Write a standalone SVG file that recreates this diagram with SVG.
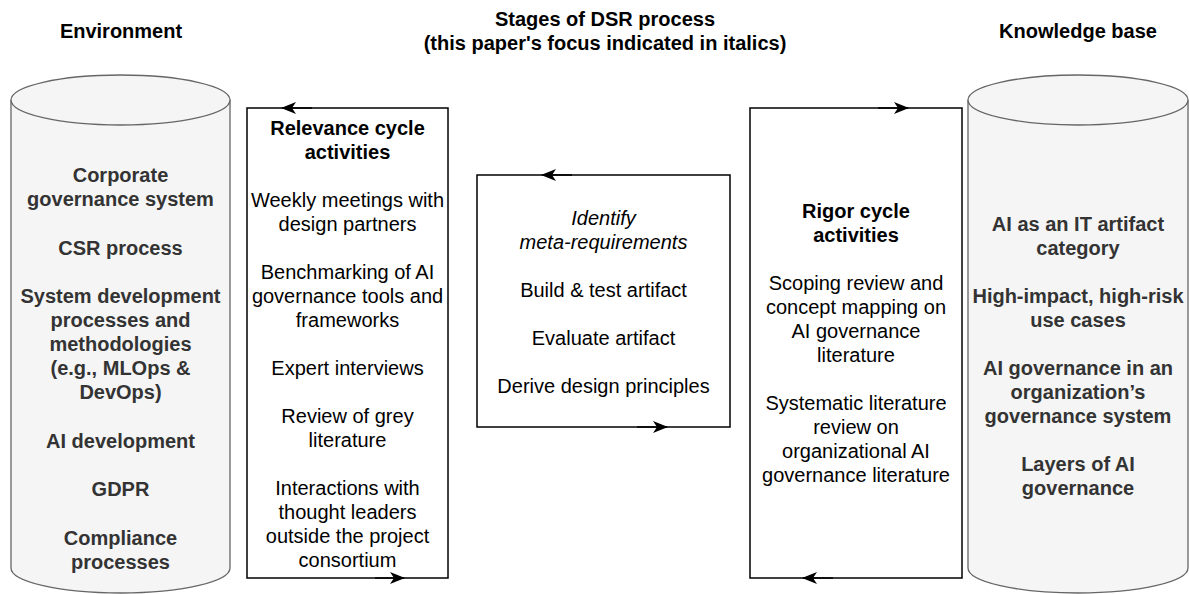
<svg xmlns="http://www.w3.org/2000/svg" width="1189" height="594" viewBox="0 0 1189 594">
<style>
  text { font-family: "Liberation Sans", Arial, Helvetica, sans-serif; font-size: 20px; text-anchor: middle; }
  .title { font-weight: bold; fill: #000; }
  .cyl { fill: #f5f5f5; stroke: #666666; stroke-width: 1.3; }
  .cyltxt { font-weight: bold; fill: #333333; }
  .box { fill: #ffffff; stroke: #000000; stroke-width: 1.5; }
  .bt { fill: #000000; }
  .b { font-weight: bold; }
  .i { font-style: italic; }
  .edge { fill: none; stroke: #000000; stroke-width: 1.5; }
</style>
<defs>
  <marker id="arr" viewBox="0 0 15 12" refX="14" refY="6" markerWidth="15" markerHeight="12" orient="auto" markerUnits="userSpaceOnUse">
    <path d="M0,0 L15,6 L0,12 L4,6 Z" fill="#000000"/>
  </marker>
</defs>
<rect x="0" y="0" width="1189" height="594" fill="#ffffff"/>

<g id="titles">
  <text class="title" x="121" y="38">Environment</text>
  <text class="title" x="605" y="26">Stages of DSR process</text>
  <text class="title" x="605" y="50">(this paper's focus indicated in italics)</text>
  <text class="title" x="1078" y="38">Knowledge base</text>
</g>

<g id="environment">
  <path class="cyl" d="M11,100 L11,568 A109.5,25 0 0 0 230,568 L230,100"/>
  <ellipse class="cyl" cx="120.5" cy="100" rx="109.5" ry="25"/>
  <text class="cyltxt" x="120.5" y="182">Corporate</text>
  <text class="cyltxt" x="120.5" y="206">governance system</text>
  <text class="cyltxt" x="120.5" y="255">CSR process</text>
  <text class="cyltxt" x="120.5" y="303">System development</text>
  <text class="cyltxt" x="120.5" y="327">processes and</text>
  <text class="cyltxt" x="120.5" y="351">methodologies</text>
  <text class="cyltxt" x="120.5" y="375">(e.g., MLOps &amp;</text>
  <text class="cyltxt" x="120.5" y="399">DevOps)</text>
  <text class="cyltxt" x="120.5" y="448">AI development</text>
  <text class="cyltxt" x="120.5" y="496">GDPR</text>
  <text class="cyltxt" x="120.5" y="545">Compliance</text>
  <text class="cyltxt" x="120.5" y="569">processes</text>
</g>

<g id="relevance">
  <rect class="box" x="247" y="108" width="201" height="470"/>
  <text class="bt b" x="347.5" y="135">Relevance cycle</text>
  <text class="bt b" x="347.5" y="159">activities</text>
  <text class="bt" x="347.5" y="207">Weekly meetings with</text>
  <text class="bt" x="347.5" y="231">design partners</text>
  <text class="bt" x="347.5" y="279">Benchmarking of AI</text>
  <text class="bt" x="347.5" y="303">governance tools and</text>
  <text class="bt" x="347.5" y="327">frameworks</text>
  <text class="bt" x="347.5" y="375">Expert interviews</text>
  <text class="bt" x="347.5" y="423">Review of grey</text>
  <text class="bt" x="347.5" y="447">literature</text>
  <text class="bt" x="347.5" y="495">Interactions with</text>
  <text class="bt" x="347.5" y="519">thought leaders</text>
  <text class="bt" x="347.5" y="543">outside the project</text>
  <text class="bt" x="347.5" y="567">consortium</text>
</g>

<g id="design">
  <rect class="box" x="477" y="175" width="253" height="252"/>
  <text class="bt i" x="603.5" y="225">Identify</text>
  <text class="bt i" x="603.5" y="249">meta-requirements</text>
  <text class="bt" x="603.5" y="297">Build &amp; test artifact</text>
  <text class="bt" x="603.5" y="345">Evaluate artifact</text>
  <text class="bt" x="603.5" y="393">Derive design principles</text>
</g>

<g id="rigor">
  <rect class="box" x="750" y="108" width="212" height="470"/>
  <text class="bt b" x="856" y="218">Rigor cycle</text>
  <text class="bt b" x="856" y="242">activities</text>
  <text class="bt" x="856" y="290">Scoping review and</text>
  <text class="bt" x="856" y="314">concept mapping on</text>
  <text class="bt" x="856" y="338">AI governance</text>
  <text class="bt" x="856" y="362">literature</text>
  <text class="bt" x="856" y="410">Systematic literature</text>
  <text class="bt" x="856" y="434">review on</text>
  <text class="bt" x="856" y="458">organizational AI</text>
  <text class="bt" x="856" y="482">governance literature</text>
</g>

<g id="knowledge">
  <path class="cyl" d="M968,100 L968,568 A110,25 0 0 0 1188,568 L1188,100"/>
  <ellipse class="cyl" cx="1078" cy="100" rx="110" ry="25"/>
  <text class="cyltxt" x="1078" y="231">AI as an IT artifact</text>
  <text class="cyltxt" x="1078" y="255">category</text>
  <text class="cyltxt" x="1078" y="303">High-impact, high-risk</text>
  <text class="cyltxt" x="1078" y="327">use cases</text>
  <text class="cyltxt" x="1078" y="375">AI governance in an</text>
  <text class="cyltxt" x="1078" y="399">organization’s</text>
  <text class="cyltxt" x="1078" y="423">governance system</text>
  <text class="cyltxt" x="1078" y="471">Layers of AI</text>
  <text class="cyltxt" x="1078" y="495">governance</text>
</g>

<g id="connectors">
  <path class="edge" d="M312,108 L282,108" marker-end="url(#arr)"/>
  <path class="edge" d="M375,578 L404,578" marker-end="url(#arr)"/>
  <path class="edge" d="M572,175 L542,175" marker-end="url(#arr)"/>
  <path class="edge" d="M637,427 L667,427" marker-end="url(#arr)"/>
  <path class="edge" d="M878,108 L908,108" marker-end="url(#arr)"/>
  <path class="edge" d="M833,578 L803,578" marker-end="url(#arr)"/>
</g>
</svg>
